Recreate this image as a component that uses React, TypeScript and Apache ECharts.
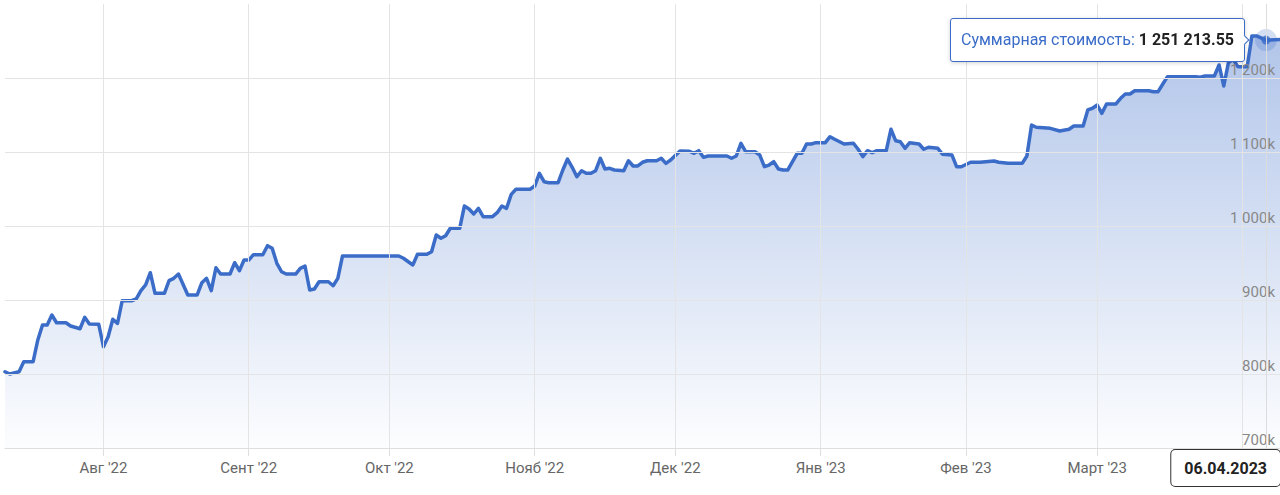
import React, { useEffect, useRef } from 'react';
import * as echarts from 'echarts';

const FONT = 'Roboto, "Noto Sans", "Liberation Sans", sans-serif';

const seriesName = 'Суммарная стоимость';

const dates = [
  '2022-07-11', '2022-07-12', '2022-07-14', '2022-07-15', '2022-07-17', '2022-07-18', '2022-07-19', '2022-07-20',
  '2022-07-21', '2022-07-22', '2022-07-24', '2022-07-25', '2022-07-27', '2022-07-28', '2022-07-29', '2022-07-31',
  '2022-08-01', '2022-08-02', '2022-08-03', '2022-08-04', '2022-08-05', '2022-08-07', '2022-08-08', '2022-08-09',
  '2022-08-10', '2022-08-11', '2022-08-12', '2022-08-14', '2022-08-15', '2022-08-16', '2022-08-17', '2022-08-19',
  '2022-08-21', '2022-08-22', '2022-08-23', '2022-08-24', '2022-08-25', '2022-08-26', '2022-08-28', '2022-08-29',
  '2022-08-30', '2022-08-31', '2022-09-01', '2022-09-02', '2022-09-04', '2022-09-05', '2022-09-06', '2022-09-07',
  '2022-09-08', '2022-09-09', '2022-09-11', '2022-09-12', '2022-09-13', '2022-09-14', '2022-09-15', '2022-09-16',
  '2022-09-18', '2022-09-19', '2022-09-20', '2022-09-21', '2022-10-03', '2022-10-04', '2022-10-06', '2022-10-07',
  '2022-10-09', '2022-10-10', '2022-10-11', '2022-10-12', '2022-10-13', '2022-10-14', '2022-10-16', '2022-10-17',
  '2022-10-18', '2022-10-19', '2022-10-20', '2022-10-21', '2022-10-23', '2022-10-24', '2022-10-25', '2022-10-26',
  '2022-10-27', '2022-10-28', '2022-10-31', '2022-11-01', '2022-11-02', '2022-11-03', '2022-11-04', '2022-11-06',
  '2022-11-07', '2022-11-08', '2022-11-09', '2022-11-10', '2022-11-11', '2022-11-12', '2022-11-13', '2022-11-14',
  '2022-11-15', '2022-11-16', '2022-11-17', '2022-11-18', '2022-11-20', '2022-11-21', '2022-11-22', '2022-11-23',
  '2022-11-24', '2022-11-25', '2022-11-27', '2022-11-28', '2022-11-29', '2022-11-30', '2022-12-02', '2022-12-04',
  '2022-12-05', '2022-12-06', '2022-12-07', '2022-12-08', '2022-12-12', '2022-12-13', '2022-12-14', '2022-12-15',
  '2022-12-16', '2022-12-18', '2022-12-19', '2022-12-20', '2022-12-21', '2022-12-22', '2022-12-23', '2022-12-24',
  '2022-12-25', '2022-12-26', '2022-12-27', '2022-12-28', '2022-12-29', '2022-12-30', '2022-12-31', '2023-01-02',
  '2023-01-03', '2023-01-04', '2023-01-06', '2023-01-08', '2023-01-09', '2023-01-10', '2023-01-11', '2023-01-12',
  '2023-01-13', '2023-01-15', '2023-01-16', '2023-01-17', '2023-01-18', '2023-01-19', '2023-01-20', '2023-01-22',
  '2023-01-23', '2023-01-24', '2023-01-26', '2023-01-27', '2023-01-29', '2023-01-30', '2023-01-31', '2023-02-02',
  '2023-02-04', '2023-02-07', '2023-02-08', '2023-02-10', '2023-02-13', '2023-02-14', '2023-02-15', '2023-02-16',
  '2023-02-19', '2023-02-21', '2023-02-23', '2023-02-24', '2023-02-26', '2023-02-27', '2023-02-28', '2023-03-01',
  '2023-03-02', '2023-03-03', '2023-03-05', '2023-03-06', '2023-03-07', '2023-03-08', '2023-03-09', '2023-03-12',
  '2023-03-13', '2023-03-14', '2023-03-15', '2023-03-16', '2023-03-22', '2023-03-23', '2023-03-24', '2023-03-26',
  '2023-03-27', '2023-03-28', '2023-03-29', '2023-03-30', '2023-03-31', '2023-04-02', '2023-04-03', '2023-04-04',
  '2023-04-06', '2023-04-09',
];

const values = [
  803100, 800000, 803100, 816600, 816600, 846000, 866200, 866200,
  879700, 869300, 869300, 864900, 861200, 876600, 867600, 867200,
  836900, 850400, 873900, 868500, 899000, 899000, 901400, 912600,
  920300, 936900, 909000, 909000, 926100, 929300, 935100, 906800,
  906800, 923400, 929300, 912600, 943600, 935100, 935100, 950400,
  939600, 954000, 954000, 961200, 961200, 973400, 969900, 949600,
  938200, 935100, 935100, 942800, 946000, 913500, 914900, 924700,
  924700, 919300, 929300, 959500, 959500, 956400, 947300, 961800,
  961800, 965300, 987800, 983400, 986900, 996900, 996900, 1027000,
  1023000, 1016200, 1023900, 1012600, 1012600, 1018000, 1027000, 1023900,
  1042800, 1049600, 1049600, 1054000, 1071200, 1059900, 1058500, 1058500,
  1075700, 1090500, 1079300, 1066600, 1074700, 1071200, 1071200, 1074700,
  1091500, 1077000, 1078000, 1075700, 1074700, 1088200, 1081100, 1081100,
  1086100, 1088200, 1088200, 1091500, 1084700, 1089200, 1101400, 1101000,
  1098200, 1101800, 1092800, 1094600, 1094600, 1091500, 1094600, 1111800,
  1100400, 1100400, 1096000, 1080100, 1082400, 1086900, 1077000, 1075700,
  1075700, 1086900, 1098200, 1098200, 1110800, 1110800, 1112600, 1112600,
  1120700, 1117200, 1110800, 1111800, 1103700, 1093700, 1101800, 1099100,
  1101800, 1101800, 1130700, 1115300, 1113900, 1105000, 1112600, 1110800,
  1103700, 1106400, 1105000, 1096900, 1096000, 1080100, 1080100, 1086100,
  1086100, 1087800, 1086100, 1084700, 1084700, 1094600, 1136500, 1133400,
  1132000, 1128400, 1130700, 1135100, 1135100, 1156800, 1159100, 1163500,
  1152300, 1164900, 1164900, 1172600, 1178400, 1178400, 1182800, 1182800,
  1181500, 1181500, 1191900, 1201800, 1201800, 1201000, 1202700, 1202700,
  1217600, 1189200, 1220700, 1225300, 1215300, 1215300, 1256800, 1256800,
  1251213.55, 1251900,
];

const xStart = '2022-07-11';
const xEnd = '2023-04-09';

const monthTicks = [
  '2022-08-01', '2022-09-01', '2022-10-01', '2022-11-01', '2022-12-01',
  '2023-01-01', '2023-02-01', '2023-03-01', '2023-04-01',
];
const monthLabels = ["Авг '22", "Сент '22", "Окт '22", "Нояб '22", "Дек '22", "Янв '23", "Фев '23", "Март '23"];

const yMin = 700000;
const yMax = 1300000;
const yStep = 100000;

const selectedDate = '2023-04-06';
const selectedValue = 1251213.55;

const LINE_COLOR = '#3a6cc8';

function ts(s: string): number {
  const [y, m, d] = s.split('-').map(Number);
  return new Date(y, m - 1, d).getTime();
}

function groupThousands(n: number): string {
  return String(n).replace(/\B(?=(\d{3})+(?!\d))/g, ' ');
}

function formatMoney(v: number): string {
  const intPart = Math.floor(v);
  const frac = Math.round((v - intPart) * 100);
  return groupThousands(intPart) + '.' + String(frac).padStart(2, '0');
}

function formatYLabel(v: number): string {
  return groupThousands(Math.round(v / 1000)) + 'k';
}

function formatDate(t: number): string {
  const d = new Date(t);
  const dd = String(d.getDate()).padStart(2, '0');
  const mm = String(d.getMonth() + 1).padStart(2, '0');
  return `${dd}.${mm}.${d.getFullYear()}`;
}

export default function App() {
  const ref = useRef<HTMLDivElement>(null);

  useEffect(() => {
    if (!ref.current) return;
    const chart = echarts.init(ref.current, undefined, { renderer: 'svg' });
    const monthTs = monthTicks.map(ts);
    const labelTs = monthTs.slice(0, monthLabels.length);
    const point = [[ts(selectedDate), selectedValue]];

    chart.setOption({
      animation: false,
      textStyle: { fontFamily: FONT },
      grid: { left: 5, right: 0, top: 4, bottom: 47, containLabel: false },
      tooltip: {
        trigger: 'item',
        triggerOn: 'none',
        alwaysShowContent: true,
        position: 'left',
        transitionDuration: 0,
        backgroundColor: '#ffffff',
        borderColor: LINE_COLOR,
        borderWidth: 1,
        padding: [9, 10],
        textStyle: { fontFamily: FONT, fontSize: 16, color: '#222' },
        extraCssText: 'box-shadow: 0 1px 4px rgba(0,0,0,0.18); border-radius: 3px;',
        formatter: () =>
          `<span style="color:${LINE_COLOR};font-size:16px">${seriesName}: </span>` +
          `<b style="color:#222;font-size:16px">${formatMoney(selectedValue)}</b>`,
      },
      xAxis: {
        type: 'value',
        min: ts(xStart),
        max: ts(xEnd),
        z: 3,
        axisLine: { show: true, lineStyle: { color: '#dedede', width: 1 } },
        axisTick: { show: true, customValues: monthTs, length: 8, lineStyle: { color: '#dedede' } },
        axisLabel: {
          customValues: labelTs,
          color: '#666',
          fontSize: 15,
          fontFamily: FONT,
          margin: 12,
          formatter: (v: number) => {
            const i = labelTs.indexOf(v);
            return i >= 0 ? monthLabels[i] : '';
          },
        },
        splitLine: { show: true, lineStyle: { color: '#e4e4e4', width: 1 } },
        axisPointer: {
          show: true,
          type: 'line',
          value: ts(selectedDate),
          status: 'show',
          snap: false,
          triggerTooltip: false,
          lineStyle: { color: '#dcdcdc', width: 1, type: 'solid' },
          label: {
            show: true,
            formatter: (p: any) => formatDate(p.value),
            backgroundColor: '#ffffff',
            borderColor: '#333',
            borderWidth: 1,
            borderRadius: 4,
            padding: [10, 13],
            color: '#222',
            fontWeight: 'bold',
            fontSize: 16,
            fontFamily: FONT,
            margin: 2,
            shadowBlur: 0,
          },
        },
      },
      yAxis: {
        type: 'value',
        position: 'right',
        min: yMin,
        max: yMax,
        interval: yStep,
        z: 3,
        axisLine: { show: false },
        axisTick: { show: false },
        axisLabel: {
          inside: true,
          margin: 5,
          showMaxLabel: false,
          verticalAlign: 'bottom',
          lineHeight: 16,
          color: '#888',
          fontSize: 15,
          fontFamily: FONT,
          formatter: (v: number) => formatYLabel(v),
        },
        splitLine: { show: true, showMaxLine: false, lineStyle: { color: '#e4e4e4', width: 1 } },
      },
      series: [
        {
          type: 'line',
          name: seriesName,
          data: dates.map((d, i) => [ts(d), values[i]]),
          showSymbol: false,
          symbol: 'none',
          silent: true,
          z: 2,
          lineStyle: { color: LINE_COLOR, width: 3.5, join: 'round', cap: 'round' },
          itemStyle: { color: LINE_COLOR },
          areaStyle: {
            color: new echarts.graphic.LinearGradient(0, 0, 0, 1, [
              { offset: 0, color: 'rgba(58,108,200,0.56)' },
              { offset: 1, color: 'rgba(58,108,200,0.02)' },
            ]),
          },
        },
        {
          type: 'scatter',
          name: seriesName,
          data: point,
          symbolSize: 22,
          z: 4,
          itemStyle: { color: 'rgba(58,108,200,0.28)' },
        },
        {
          type: 'scatter',
          name: seriesName,
          data: point,
          symbolSize: 9,
          z: 5,
          silent: true,
          itemStyle: { color: LINE_COLOR },
        },
      ],
    });

    chart.dispatchAction({ type: 'showTip', seriesIndex: 1, dataIndex: 0 });

    return () => {
      chart.dispose();
    };
  }, []);

  return (
    <div
      ref={ref}
      style={{ position: 'absolute', left: 0, top: 0, width: 1280, height: 495, background: '#fff' }}
    />
  );
}
